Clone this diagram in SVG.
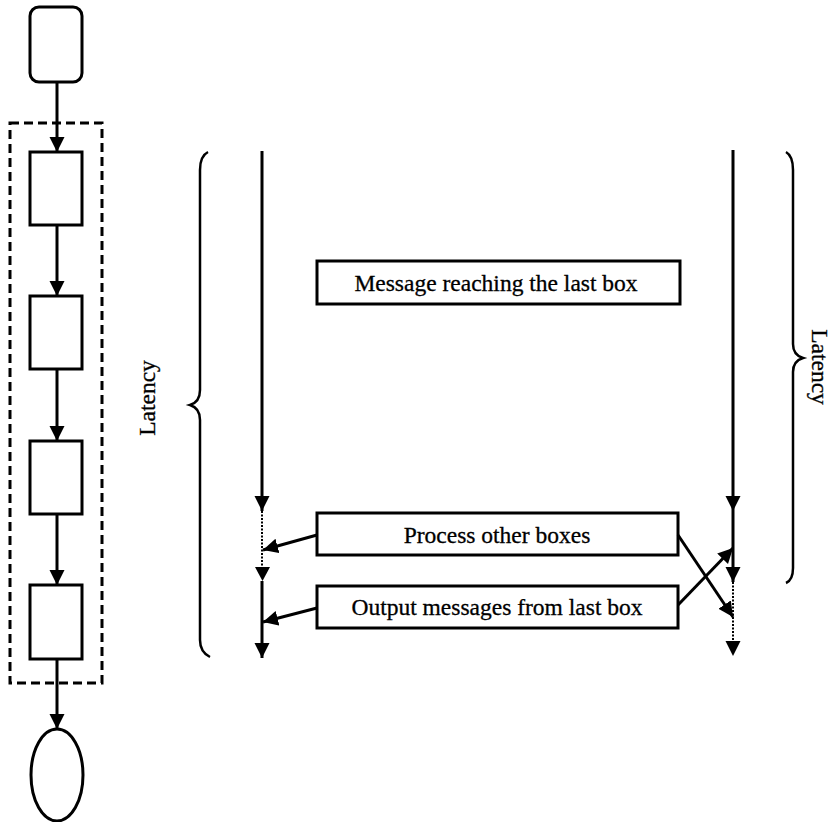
<svg xmlns="http://www.w3.org/2000/svg" width="835" height="822" viewBox="0 0 835 822">
<style>
.box{fill:#fff;stroke:#000;stroke-width:3}
.ln{fill:none;stroke:#000;stroke-width:3}
.dot{fill:none;stroke:#000;stroke-width:2;stroke-dasharray:2,1.5}
.br{fill:none;stroke:#000;stroke-width:2.5}
.t{font-family:"Liberation Serif","Times New Roman",serif;font-size:23.5px;fill:#000;stroke:#000;stroke-width:0.3;text-anchor:middle}
</style>
<defs>
<marker id="ah" markerUnits="userSpaceOnUse" markerWidth="16" markerHeight="16" refX="15" refY="7.5" orient="auto">
<path d="M0,0 L15,7.5 L0,15 z" fill="#000"/>
</marker>
</defs>
<g id="flow-frame">
<rect x="10" y="123" width="92" height="560" fill="none" stroke="#000" stroke-width="3" stroke-dasharray="9,5"/>
</g>
<g id="start"><rect class="box" x="30" y="7" width="52" height="75" rx="9"/></g>
<g id="box1"><rect class="box" x="30" y="152" width="52" height="73"/></g>
<g id="box2"><rect class="box" x="30" y="296" width="52" height="73"/></g>
<g id="box3"><rect class="box" x="30" y="441" width="52" height="73"/></g>
<g id="box4"><rect class="box" x="30" y="585" width="52" height="74"/></g>
<g id="end"><ellipse class="box" cx="57" cy="775" rx="26" ry="46"/></g>
<g id="msg-reach"><rect class="box" x="317" y="261" width="363" height="43"/><text class="t" x="496" y="291">Message reaching the last box</text></g>
<g id="process-other"><rect class="box" x="317" y="513" width="361" height="42"/><text class="t" x="497" y="543">Process other boxes</text></g>
<g id="output-msgs"><rect class="box" x="317" y="586" width="361" height="42"/><text class="t" x="497" y="615">Output messages from last box</text></g>
<g id="latency-left">
<path class="br" d="M208,152 Q200,156 200,170 L200,390 Q200,402 190,405 Q200,408 200,420 L200,640 Q200,652 210,657"/>
<text class="t" transform="translate(155,398) rotate(-90)">Latency</text>
</g>
<g id="latency-right">
<path class="br" d="M786,152 Q793,156 793,170 L793,344 Q793,355 803,358 Q793,361 793,372 L793,568 Q793,580 786,583"/>
<text class="t" transform="translate(812,367) rotate(90)">Latency</text>
</g>
<g id="connectors">
<line class="ln" x1="57" y1="82" x2="57" y2="152" marker-end="url(#ah)"/>
<line class="ln" x1="57" y1="225" x2="57" y2="296" marker-end="url(#ah)"/>
<line class="ln" x1="57" y1="369" x2="57" y2="441" marker-end="url(#ah)"/>
<line class="ln" x1="57" y1="514" x2="57" y2="585" marker-end="url(#ah)"/>
<line class="ln" x1="57" y1="659" x2="57" y2="729" marker-end="url(#ah)"/>
<line class="ln" x1="262" y1="151" x2="262" y2="511" marker-end="url(#ah)"/>
<line class="dot" x1="262" y1="511" x2="262" y2="568"/>
<path d="M255,567 L270,567 L262.5,581 z" fill="#000"/>
<line class="ln" x1="262" y1="581" x2="262" y2="658" marker-end="url(#ah)"/>
<line class="ln" x1="317" y1="535" x2="263" y2="550" marker-end="url(#ah)"/>
<line class="ln" x1="317" y1="608" x2="263" y2="622" marker-end="url(#ah)"/>
<line class="ln" x1="733" y1="150" x2="733" y2="511" marker-end="url(#ah)"/>
<line class="ln" x1="733" y1="511" x2="733" y2="582" marker-end="url(#ah)"/>
<line class="dot" x1="733" y1="582" x2="733" y2="642"/>
<path d="M725.5,641 L740.5,641 L733,656 z" fill="#000"/>
<line class="ln" x1="678" y1="535" x2="733" y2="617" marker-end="url(#ah)"/>
<line class="ln" x1="678" y1="605" x2="733" y2="548" marker-end="url(#ah)"/>
</g>
</svg>
